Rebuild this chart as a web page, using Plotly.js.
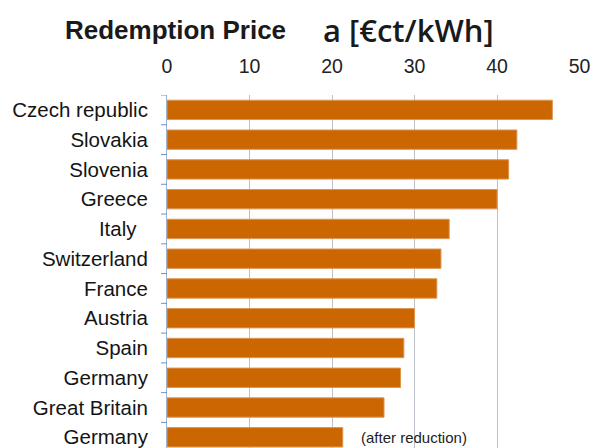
<!DOCTYPE html>
<html>
<head>
<meta charset="utf-8">
<script src="https://cdn.plot.ly/plotly-3.0.1.min.js"></script>
<style>
  html, body { margin: 0; padding: 0; background: #ffffff; }
  #chart { width: 591px; height: 448px; }
</style>
</head>
<body>
<div id="chart"></div>
<script>
// Feed-in (redemption) prices per country, €ct/kWh
// (the second "Germany" carries a zero-width space so it gets its own row)
const countries = [
  "Czech republic", "Slovakia", "Slovenia", "Greece", "Italy\u00a0\u00a0",
  "Switzerland", "France", "Austria", "Spain", "Germany",
  "Great Britain", "Germany\u200b"
];
const prices = [46.7, 42.4, 41.4, 40.0, 34.2, 33.2, 32.7, 30.0, 28.7, 28.3, 26.3, 21.3];
const xTicks = [0, 10, 20, 30, 40, 50];
const noteText = "(after reduction)";
const noteIndex = 11;

// plot area geometry in pixels
const L = 167, R = 11, T = 95, B = 0;
const W = 591 - L - R, H = 448 - T - B;
const px = x => (x - L) / W;
const py = y => (448 - B - y) / H;

const trace = {
  type: "bar",
  orientation: "h",
  x: prices,
  y: countries,
  width: 0.65,
  marker: { color: "#cc6600", line: { color: "#de9550", width: 1 } },
  hoverinfo: "skip"
};

// short separator marks left of the axis line, one per row boundary
const sepLen = 6;
const separators = countries.map((_, i) => ({
  type: "line",
  xref: "paper", yref: "y",
  x0: -sepLen / W, x1: 0,
  y0: i - 0.5, y1: i - 0.5,
  line: { color: "#6f8fc4", width: 1 },
  layer: "above"
}));

const layout = {
  width: 591,
  height: 448,
  margin: { l: L, r: R, t: T, b: B, pad: 0 },
  paper_bgcolor: "#ffffff",
  plot_bgcolor: "#ffffff",
  showlegend: false,
  xaxis: {
    side: "top",
    range: [0, 50.05],
    tickmode: "array",
    tickvals: xTicks,
    ticktext: xTicks.map(String),
    showgrid: true,
    gridcolor: "#bcc0c8",
    gridwidth: 1,
    zeroline: false,
    showline: false,
    ticks: "",
    ticklabelstandoff: 17,
    tickfont: { family: "Liberation Sans, Arial, sans-serif", size: 19.5, color: "#222222" },
    fixedrange: true
  },
  yaxis: {
    type: "category",
    categoryorder: "array",
    categoryarray: countries,
    range: [11.36, -0.5],
    dtick: 1,
    ticks: "",
    ticklabeloverflow: "allow",
    showgrid: false,
    zeroline: false,
    showline: true,
    linecolor: "#9fb3d1",
    linewidth: 1,
    ticklabelstandoff: 14,
    tickfont: { family: "Liberation Sans, Arial, sans-serif", size: 20.5, color: "#141414" },
    fixedrange: true
  },
  shapes: separators,
  annotations: [
    {
      xref: "paper", yref: "paper",
      x: px(63), y: py(30),
      xanchor: "left", yanchor: "middle",
      text: "<b>Redemption Price</b>",
      showarrow: false,
      font: { family: "Liberation Sans, Arial, sans-serif", size: 26, color: "#1a1a1a" }
    },
    {
      xref: "paper", yref: "paper",
      x: px(321), y: py(30),
      xanchor: "left", yanchor: "middle",
      text: "a [€ct/kWh]",
      showarrow: false,
      font: { family: "Open Sans, sans-serif", size: 31, weight: 600, color: "#1a1a1a" }
    },
    {
      xref: "x", yref: "y",
      x: prices[noteIndex] + 2, y: countries[noteIndex],
      xanchor: "left", yanchor: "middle",
      text: noteText,
      showarrow: false,
      font: { family: "Liberation Sans, Arial, sans-serif", size: 15, color: "#222222" }
    }
  ]
};

Plotly.newPlot("chart", [trace], layout, { staticPlot: true, displayModeBar: false });
</script>
</body>
</html>
